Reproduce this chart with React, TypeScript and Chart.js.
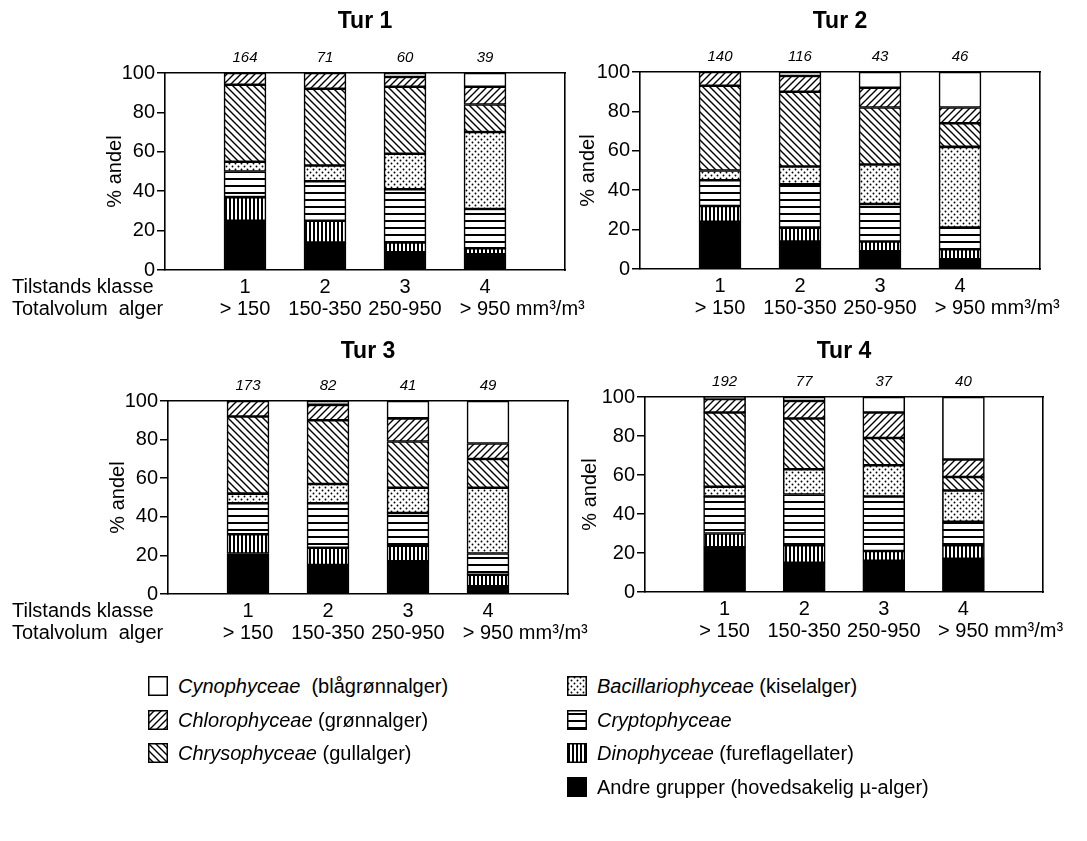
import React, { useEffect, useRef } from 'react';
import { Chart, registerables } from 'chart.js';

Chart.register(...registerables);

const FONT = '"Liberation Sans", Arial, Helvetica, sans-serif';

// ---- Labels ----
const classLabels = ['1', '2', '3', '4'];
const volumeLabels = ['> 150', '150-350', '250-950', '> 950'];
const volumeUnit = 'mm³/m³';
const rowLabelClass = 'Tilstands klasse';
const rowLabelVolume = 'Totalvolum  alger';
const yTickValues = [0, 20, 40, 60, 80, 100];
const yAxisTitle = '% andel';
const panelTitles = ['Tur 1', 'Tur 2', 'Tur 3', 'Tur 4'];

// ---- Data (% share per group; bars = Tilstands klasse 1..4) ----
const tur1Counts = [164, 71, 60, 39];
const tur1Andre = [25, 14, 9, 8];
const tur1Dino = [12, 11, 5, 3];
const tur1Crypto = [13, 20, 27, 20];
const tur1Bacil = [5, 8, 18, 39];
const tur1Chryso = [39, 39, 34, 14];
const tur1Chloro = [6, 8, 5, 9];
const tur1Cyno = [0, 0, 2, 7];

const tur2Counts = [140, 116, 43, 46];
const tur2Andre = [24, 14, 9, 5];
const tur2Dino = [8, 7, 5, 5];
const tur2Crypto = [13, 22, 19, 11];
const tur2Bacil = [5, 9, 20, 41];
const tur2Chryso = [43, 38, 29, 12];
const tur2Chloro = [7, 8, 10, 8];
const tur2Cyno = [0, 2, 8, 18];

const tur3Counts = [173, 82, 41, 49];
const tur3Andre = [21, 15, 17, 4];
const tur3Dino = [10, 9, 8, 6];
const tur3Crypto = [16, 23, 17, 11];
const tur3Bacil = [5, 10, 13, 34];
const tur3Chryso = [40, 33, 24, 15];
const tur3Chloro = [8, 8, 12, 8];
const tur3Cyno = [0, 2, 9, 22];

const tur4Counts = [192, 77, 37, 40];
const tur4Andre = [23, 15, 16, 17];
const tur4Dino = [7, 9, 5, 7];
const tur4Crypto = [19, 26, 28, 12];
const tur4Bacil = [5, 13, 16, 16];
const tur4Chryso = [38, 26, 14, 7];
const tur4Chloro = [7, 9, 13, 9];
const tur4Cyno = [1, 2, 8, 32];

// bottom-to-top stacking order
const groupNames = [
  'Andre grupper',
  'Dinophyceae',
  'Cryptophyceae',
  'Bacillariophyceae',
  'Chrysophyceae',
  'Chlorophyceae',
  'Cynophyceae',
];
const groupPatterns = ['black', 'vert', 'horiz', 'dots', 'back', 'fwd', 'white'];

// legend entries
const legendLatin = [
  'Cynophyceae',
  'Chlorophyceae',
  'Chrysophyceae',
  'Bacillariophyceae',
  'Cryptophyceae',
  'Dinophyceae',
  '',
];
const legendNorsk = [
  '  (blågrønnalger)',
  ' (grønnalger)',
  ' (gullalger)',
  ' (kiselalger)',
  '',
  ' (fureflagellater)',
  'Andre grupper (hovedsakelig µ-alger)',
];
const legendPatterns = ['white', 'fwd', 'back', 'dots', 'horiz', 'vert', 'black'];

type PanelDef = {
  title: string;
  counts: number[];
  values: number[][];
  left: number;
  top: number;
  width: number;
  height: number;
  padL: number;
  padR: number;
  yW: number;
  x2H: number;
  rowLabels: boolean;
};

const panels: PanelDef[] = [
  {
    title: panelTitles[0], counts: tur1Counts,
    values: [tur1Andre, tur1Dino, tur1Crypto, tur1Bacil, tur1Chryso, tur1Chloro, tur1Cyno],
    left: 0, top: 0, width: 620, height: 320, padL: 103, padR: 54, yW: 62, x2H: 73, rowLabels: true,
  },
  {
    title: panelTitles[1], counts: tur2Counts,
    values: [tur2Andre, tur2Dino, tur2Crypto, tur2Bacil, tur2Chryso, tur2Chloro, tur2Cyno],
    left: 560, top: 0, width: 527, height: 319, padL: 16, padR: 46, yW: 64, x2H: 72, rowLabels: false,
  },
  {
    title: panelTitles[2], counts: tur3Counts,
    values: [tur3Andre, tur3Dino, tur3Crypto, tur3Bacil, tur3Chryso, tur3Chloro, tur3Cyno],
    left: 0, top: 330, width: 620, height: 314, padL: 106, padR: 51, yW: 62, x2H: 71, rowLabels: true,
  },
  {
    title: panelTitles[3], counts: tur4Counts,
    values: [tur4Andre, tur4Dino, tur4Crypto, tur4Bacil, tur4Chryso, tur4Chloro, tur4Cyno],
    left: 560, top: 330, width: 527, height: 312, padL: 18, padR: 43, yW: 67, x2H: 67, rowLabels: false,
  },
];

function makePattern(kind: string): CanvasPattern | string {
  if (kind === 'white') return '#ffffff';
  if (kind === 'black') return '#000000';
  const c = document.createElement('canvas');
  const s = kind === 'vert' ? 4 : kind === 'dots' ? 6 : 7;
  c.width = s;
  c.height = s;
  const ctx = c.getContext('2d')!;
  ctx.fillStyle = '#fff';
  ctx.fillRect(0, 0, s, s);
  ctx.fillStyle = '#000';
  ctx.strokeStyle = '#000';
  if (kind === 'fwd') {
    ctx.lineWidth = 1.4;
    ctx.beginPath();
    ctx.moveTo(-1, s + 1); ctx.lineTo(s + 1, -1);
    ctx.moveTo(-1, 1); ctx.lineTo(1, -1);
    ctx.moveTo(s - 1, s + 1); ctx.lineTo(s + 1, s - 1);
    ctx.stroke();
  } else if (kind === 'back') {
    ctx.lineWidth = 1.4;
    ctx.beginPath();
    ctx.moveTo(-1, -1); ctx.lineTo(s + 1, s + 1);
    ctx.moveTo(s - 1, -1); ctx.lineTo(s + 1, 1);
    ctx.moveTo(-1, s - 1); ctx.lineTo(1, s + 1);
    ctx.stroke();
  } else if (kind === 'horiz') {
    ctx.fillRect(0, 3, s, 2);
  } else if (kind === 'vert') {
    ctx.fillRect(1, 0, 2, s);
  } else if (kind === 'dots') {
    ctx.beginPath();
    ctx.arc(1.5, 1.5, 0.95, 0, Math.PI * 2);
    ctx.arc(4.5, 4.5, 0.95, 0, Math.PI * 2);
    ctx.fill();
  }
  return ctx.createPattern(c, 'repeat')!;
}

const extraLabels = {
  id: 'extraLabels',
  afterDraw(chart: any, _args: any, opts: any) {
    const { ctx } = chart;
    const xs = chart.scales.x;
    const lh = 22;
    const pad = 6;
    const y1 = xs.top + pad + lh / 2;
    const y2 = y1 + lh;
    ctx.save();
    ctx.font = `20px ${FONT}`;
    ctx.fillStyle = '#000';
    ctx.textBaseline = 'middle';
    ctx.textAlign = 'left';
    const lastX = xs.getPixelForValue(classLabels.length);
    const w = ctx.measureText(volumeLabels[volumeLabels.length - 1]).width;
    ctx.fillText(' ' + volumeUnit, lastX + w / 2, y2);
    if (opts && opts.rowLabels) {
      ctx.fillText(rowLabelClass, opts.rowX, y1);
      ctx.fillText(rowLabelVolume, opts.rowX, y2);
    }
    ctx.restore();
  },
};

function buildChart(canvas: HTMLCanvasElement, p: PanelDef, pats: Record<string, CanvasPattern | string>) {
  const slots = ['', ...classLabels, ''];
  const countSlots = ['', ...p.counts.map(String), ''];
  const black = '#000';
  return new Chart(canvas, {
    type: 'bar',
    data: {
      labels: slots,
      datasets: groupNames.map((name, gi) => ({
        label: name,
        data: [null, ...p.values[gi], null],
        backgroundColor: pats[groupPatterns[gi]] as any,
        borderColor: black,
        borderWidth: 1.6,
        borderSkipped: false,
        barThickness: 42,
        xAxisID: 'x',
        yAxisID: 'y',
      })),
    },
    options: {
      animation: false,
      responsive: false,
      devicePixelRatio: 1,
      layout: { padding: { left: p.padL, right: p.padR, top: 0, bottom: 0 } },
      plugins: {
        legend: { display: false },
        tooltip: { enabled: false },
        title: { display: false },
        extraLabels: { rowLabels: p.rowLabels, rowX: 12 },
      } as any,
      scales: {
        x: {
          type: 'category',
          position: 'bottom',
          offset: false,
          stacked: true,
          grid: { display: false, drawTicks: false },
          border: { display: true, color: black, width: 1.6 },
          ticks: {
            autoSkip: false,
            maxRotation: 0,
            minRotation: 0,
            padding: 6,
            color: black,
            font: { family: FONT, size: 20, lineHeight: 1.1 },
            callback: (_v: any, i: number) =>
              i >= 1 && i <= classLabels.length ? [classLabels[i - 1], volumeLabels[i - 1]] : '',
          },
          afterFit: (s: any) => { s.height = 50; },
        },
        x2: {
          type: 'category',
          position: 'top',
          labels: countSlots,
          offset: false,
          grid: { display: false, drawTicks: false },
          border: { display: true, color: black, width: 1.6 },
          ticks: {
            autoSkip: false,
            maxRotation: 0,
            minRotation: 0,
            padding: 6,
            color: black,
            font: { family: FONT, size: 15, style: 'italic' },
          },
          title: {
            display: true,
            text: p.title,
            color: black,
            font: { family: FONT, size: 23, weight: 'bold' },
            padding: { top: 8, bottom: 0 },
          },
          afterFit: (s: any) => { s.height = p.x2H; },
        },
        y: {
          type: 'linear',
          position: 'left',
          min: 0,
          max: 100,
          stacked: true,
          afterBuildTicks: (s: any) => { s.ticks = yTickValues.map((v) => ({ value: v })); },
          ticks: { padding: 2, color: black, font: { family: FONT, size: 20 } },
          grid: { display: true, drawOnChartArea: false, drawTicks: true, tickLength: 8, color: black, lineWidth: 1.5 },
          border: { display: true, color: black, width: 1.6 },
          title: {
            display: true,
            text: yAxisTitle,
            color: black,
            font: { family: FONT, size: 20 },
            padding: { top: 0, bottom: 0 },
          },
          afterFit: (s: any) => { s.width = p.yW; },
        },
        y2: {
          type: 'linear',
          position: 'right',
          display: true,
          ticks: { display: false },
          grid: { display: true, drawOnChartArea: false, drawTicks: false },
          border: { display: true, color: black, width: 1.6 },
          afterFit: (s: any) => { s.width = 1; },
        },
      } as any,
    },
    plugins: [extraLabels as any],
  });
}

const legendRowsY = [686, 720, 753, 787];
const legendLayout = [
  { x: 148, row: 0 },
  { x: 148, row: 1 },
  { x: 148, row: 2 },
  { x: 567, row: 0 },
  { x: 567, row: 1 },
  { x: 567, row: 2 },
  { x: 567, row: 3 },
];

export default function App() {
  const canvasRefs = useRef<(HTMLCanvasElement | null)[]>([]);
  const swatchRefs = useRef<(HTMLCanvasElement | null)[]>([]);

  useEffect(() => {
    const pats: Record<string, CanvasPattern | string> = {};
    ['white', 'black', 'fwd', 'back', 'dots', 'horiz', 'vert'].forEach((k) => {
      pats[k] = makePattern(k);
    });
    const charts = panels.map((p, i) => buildChart(canvasRefs.current[i]!, p, pats));

    swatchRefs.current.forEach((c, i) => {
      if (!c) return;
      const ctx = c.getContext('2d')!;
      ctx.clearRect(0, 0, c.width, c.height);
      ctx.fillStyle = pats[legendPatterns[i]] as any;
      ctx.fillRect(0, 0, c.width, c.height);
      ctx.strokeStyle = '#000';
      ctx.lineWidth = 1.5;
      ctx.strokeRect(0.75, 0.75, c.width - 1.5, c.height - 1.5);
    });

    return () => charts.forEach((c) => c.destroy());
  }, []);

  return (
    <div style={{ position: 'absolute', left: 0, top: 0, width: 1087, height: 841, background: '#fff', overflow: 'hidden' }}>
      {panels.map((p, i) => (
        <canvas
          key={i}
          ref={(el) => { canvasRefs.current[i] = el; }}
          width={p.width}
          height={p.height}
          style={{ position: 'absolute', left: p.left, top: p.top, width: p.width, height: p.height, display: 'block' }}
        />
      ))}
      {legendLayout.map((l, i) => {
        const cy = legendRowsY[l.row];
        return (
          <div key={i} style={{ position: 'absolute', left: l.x, top: cy - 12, height: 24, display: 'flex', alignItems: 'center', whiteSpace: 'pre', fontFamily: FONT, fontSize: 20, color: '#000' }}>
            <canvas
              ref={(el) => { swatchRefs.current[i] = el; }}
              width={20}
              height={20}
              style={{ width: 20, height: 20, display: 'block', marginRight: 10 }}
            />
            <span style={{ fontStyle: 'italic' }}>{legendLatin[i]}</span>
            <span>{legendNorsk[i]}</span>
          </div>
        );
      })}
    </div>
  );
}
